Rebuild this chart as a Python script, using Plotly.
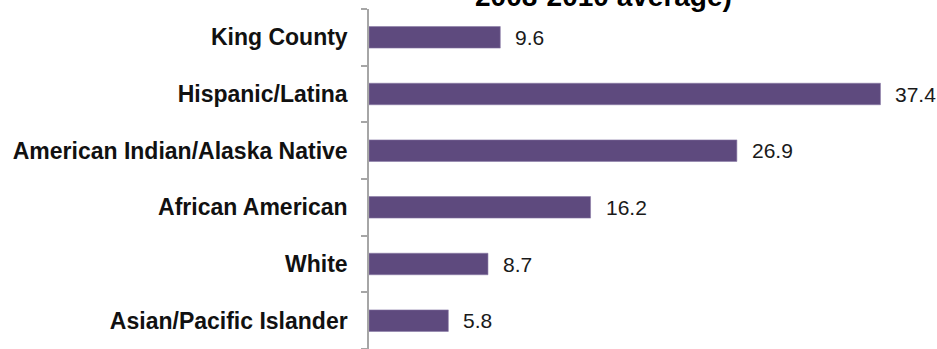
import plotly.graph_objects as go

categories = ["King County", "Hispanic/Latina", "American Indian/Alaska Native",
              "African American", "White", "Asian/Pacific Islander"]
values = [9.6, 37.4, 26.9, 16.2, 8.7, 5.8]
title_text = "2008-2010 average)"

W, H = 937, 349
ML, MR, MT, MB = 369, 21, 9, 0

fig = go.Figure()
fig.add_trace(go.Bar(
    x=values, y=categories, orientation="h",
    width=0.38,
    marker=dict(color="#5E4A7E", line=dict(color="#8A7AA6", width=0.6)),
    hoverinfo="skip",
))
for c, v in zip(categories, values):
    fig.add_annotation(x=v, y=c, text=f"{v:.1f}", showarrow=False,
                       xanchor="left", xshift=13,
                       font=dict(family="Liberation Sans, Arial", size=21, color="#1a1a1a"))

fig.update_layout(
    width=W, height=H,
    margin=dict(l=ML, r=MR, t=MT, b=MB),
    paper_bgcolor="white", plot_bgcolor="white",
    showlegend=False,
    font=dict(family="Liberation Sans, Arial"),
    xaxis=dict(range=[0, 40], visible=False, fixedrange=True),
    yaxis=dict(
        categoryorder="array", categoryarray=categories[::-1],
        autorange=False, range=[-0.5, 5.5], fixedrange=True,
        showline=True, linecolor="#A6A6A6", linewidth=1.5,
        ticks="outside", ticklen=6, tickcolor="#A6A6A6", tickwidth=1.5,
        tickson="boundaries", showgrid=False,
        tickfont=dict(family="Liberation Sans, Arial", size=23, color="#111111", weight="bold"),
        ticklabelstandoff=15,
    ),
)
fig.add_annotation(
    xref="paper", yref="paper", x=(603 - ML) / (W - ML - MR), y=1,
    yshift=-5, yanchor="bottom", xanchor="center", showarrow=False,
    text=title_text,
    font=dict(family="Liberation Sans, Arial", size=28, color="#000000", weight="bold"),
)
fig.write_html("out.html", config={"displayModeBar": False},
               post_script="document.body.style.margin='0';document.body.style.overflow='hidden';")
